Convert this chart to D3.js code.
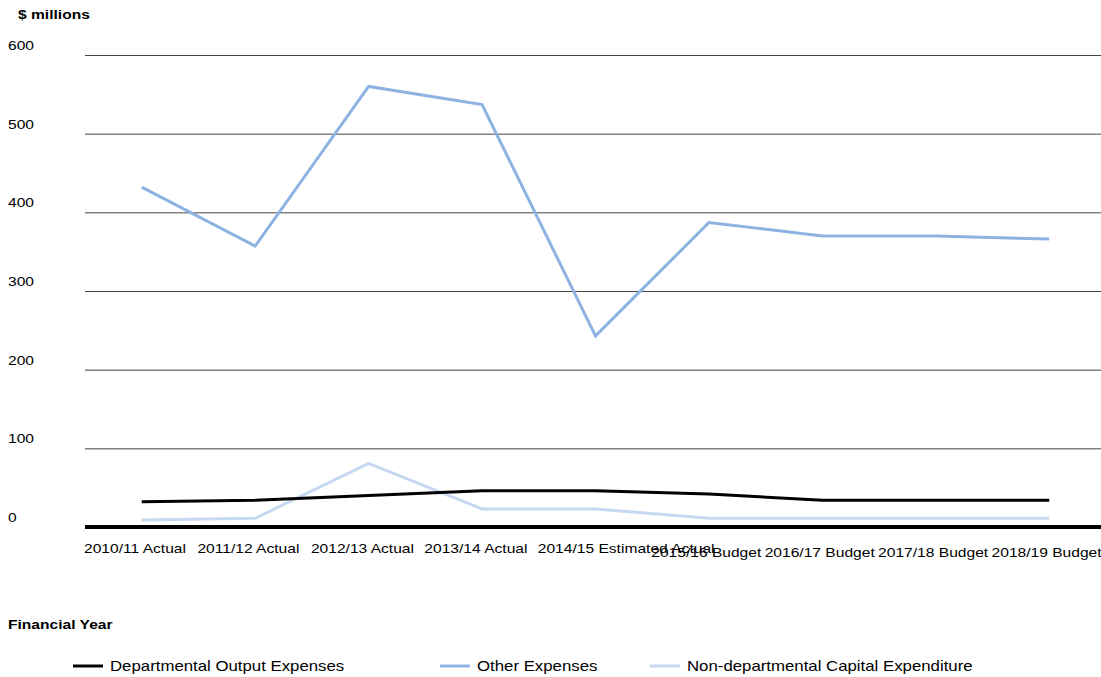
<!DOCTYPE html>
<html>
<head>
<meta charset="utf-8">
<script src="https://cdn.jsdelivr.net/npm/d3@7"></script>
<style>
    body { margin: 0; background: #fff; }
    svg { font-family: "Liberation Sans", Arial, sans-serif; }
    .tick-label { font-size: 13px; fill: #000; }
    .title { font-size: 13px; font-weight: bold; fill: #000; }
    .legend-text { font-size: 14px; fill: #000; }
</style>
</head>
<body>
<svg id="chart" width="1101" height="677"></svg>
<script>
var years = ['2010/11 Actual', '2011/12 Actual', '2012/13 Actual', '2013/14 Actual',
    '2014/15 Estimated Actual', '2015/16 Budget', '2016/17 Budget', '2017/18 Budget', '2018/19 Budget'];
var departmentalOutput = [32, 34, 40, 46, 46, 42, 34, 34, 34];
var otherExpenses = [432, 357, 560, 537, 243, 387, 370, 370, 366];
var nonDepartmentalCapital = [9, 11, 81, 23, 23, 11, 11, 11, 11];
var yTicks = [0, 100, 200, 300, 400, 500, 600];

(function() {
    var options = {
        left: 85,
        right: 1106,
        top: 55,
        bottom: 527,
        stretch: 1.2
    };

    var series = [
        { name: 'Departmental Output Expenses', values: departmentalOutput, color: '#000000', legendX: 73 },
        { name: 'Other Expenses', values: otherExpenses, color: '#8db3e2', legendX: 440 },
        { name: 'Non-departmental Capital Expenditure', values: nonDepartmentalCapital, color: '#c6d9f1', legendX: 650 }
    ];

    var svg = d3.select('#chart');

    // text in the original is a bit wider than Arial, stretch it horizontally
    var place = function(px, py) {
        return 'translate(' + px + ',' + py + ') scale(' + options.stretch + ',1)';
    };

    var x = d3.scaleBand()
        .domain(years)
        .range([options.left, options.right]);

    var y = d3.scaleLinear()
        .domain([0, 600])
        .range([options.bottom, options.top]);

    // gridlines
    svg.append('g')
        .selectAll('line')
        .data(yTicks.filter(function(d) { return d > 0; }))
        .enter().append('line')
        .attr('x1', options.left)
        .attr('x2', 1101)
        .attr('y1', function(d) { return y(d) + 0.5; })
        .attr('y2', function(d) { return y(d) + 0.5; })
        .attr('stroke', '#444')
        .attr('stroke-width', 1);

    svg.append('g')
        .selectAll('text')
        .data(yTicks)
        .enter().append('text')
        .classed('tick-label', true)
        .attr('transform', function(d) { return place(8, y(d) - 5); })
        .text(function(d) { return d; });

    svg.append('text')
        .classed('title', true)
        .attr('transform', place(18, 19))
        .text('$ millions');

    var line = d3.line()
        .x(function(d, i) { return x(years[i]) + x.bandwidth() / 2; })
        .y(function(d) { return y(d); });

    series.slice().reverse().forEach(function(s) {
        svg.append('path')
            .datum(s.values)
            .attr('d', line)
            .attr('fill', 'none')
            .attr('stroke', s.color)
            .attr('stroke-width', 3);
    });

    // baseline
    svg.append('line')
        .attr('x1', options.left)
        .attr('x2', 1101)
        .attr('y1', y(0))
        .attr('y2', y(0))
        .attr('stroke', '#000')
        .attr('stroke-width', 4);

    // category labels sit at the left edge of each band, as in the original
    svg.append('g')
        .selectAll('text')
        .data(years)
        .enter().append('text')
        .classed('tick-label', true)
        .attr('transform', function(d) {
            return place(x(d) - 1, d.indexOf('Budget') >= 0 ? 557 : 553);
        })
        .text(function(d) { return d; });

    svg.append('text')
        .classed('title', true)
        .attr('transform', place(8, 629))
        .text('Financial Year');

    var legend = svg.append('g');

    series.forEach(function(s) {
        legend.append('line')
            .attr('x1', s.legendX)
            .attr('x2', s.legendX + 30)
            .attr('y1', 666)
            .attr('y2', 666)
            .attr('stroke', s.color)
            .attr('stroke-width', 3);

        legend.append('text')
            .classed('legend-text', true)
            .attr('transform', place(s.legendX + 37, 671))
            .text(s.name);
    });
})();
</script>
</body>
</html>
